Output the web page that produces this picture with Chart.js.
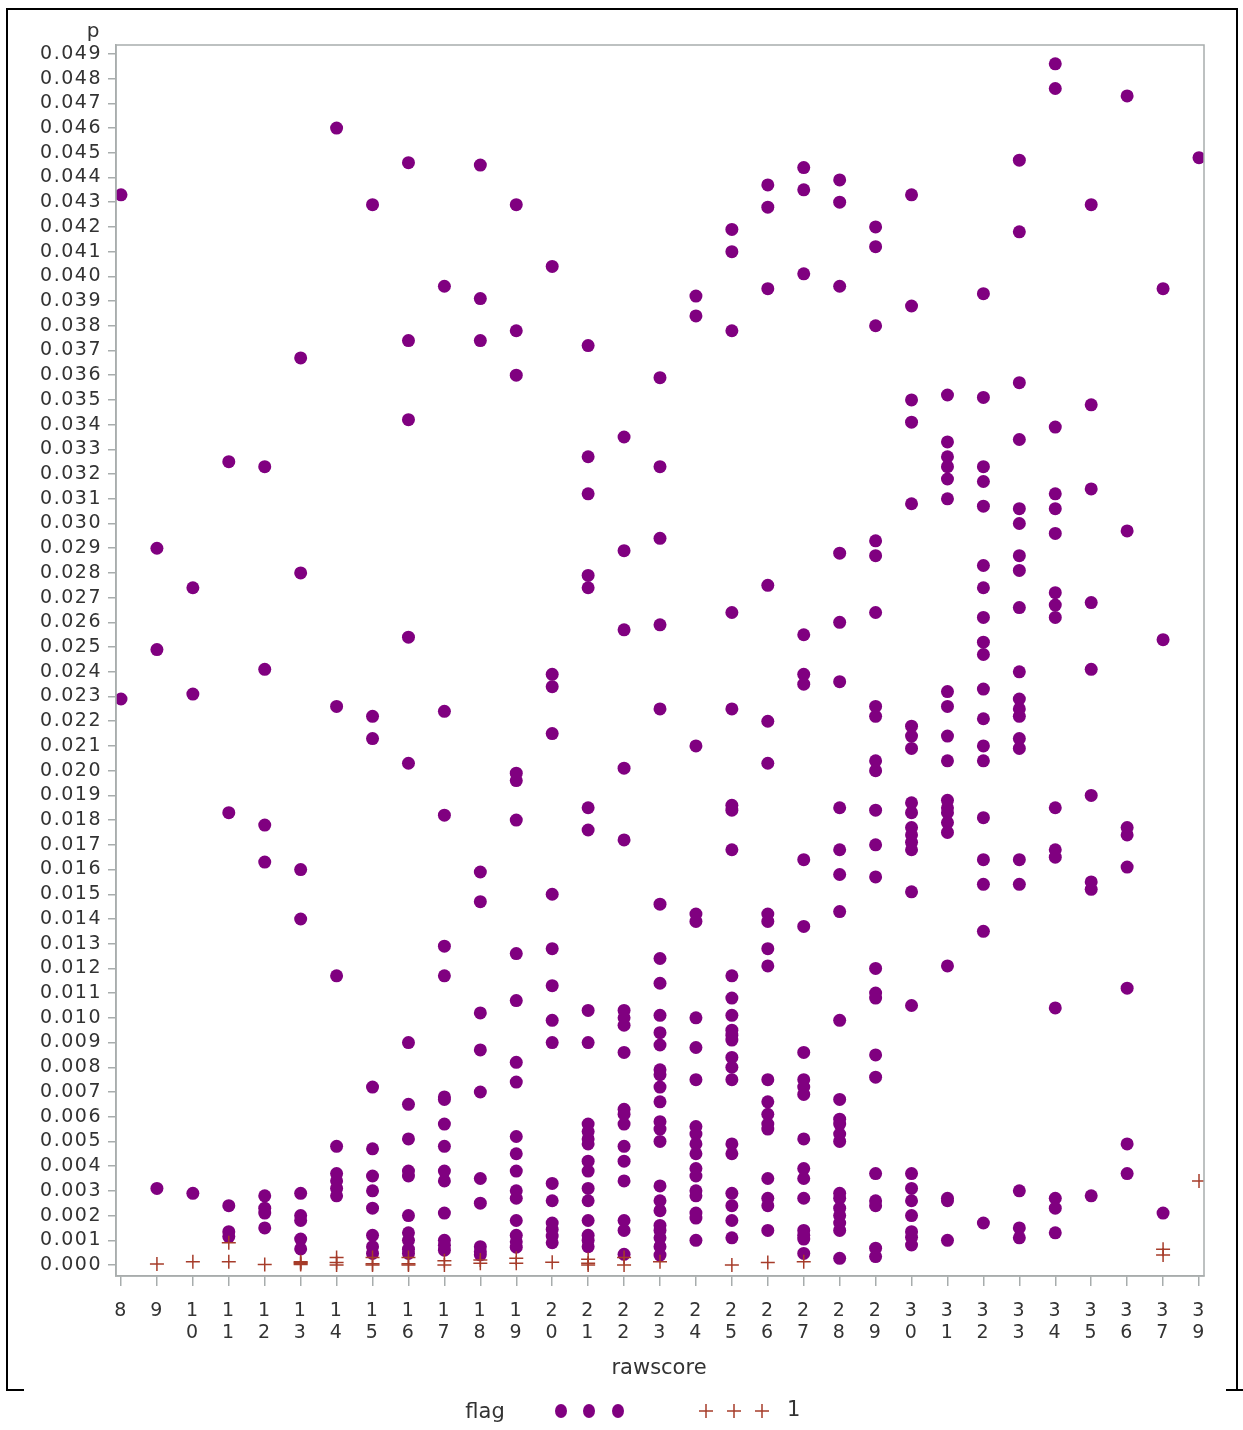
<!DOCTYPE html>
<html>
<head>
<meta charset="utf-8">
<script src="https://cdn.jsdelivr.net/npm/chart.js@4.4.1/dist/chart.umd.min.js"></script>
<style>
  body { margin: 0; background: #fff; }
  #chart { position: absolute; left: 0; top: 0; }
</style>
</head>
<body>
<canvas id="chart" width="1243" height="1430"></canvas>
<script>
// categories on the x axis (38 has no data, so it has no tick)
const rawscores = [8, 9, 10, 11, 12, 13, 14, 15, 16, 17, 18, 19, 20, 21, 22, 23, 24, 25, 26, 27, 28, 29, 30, 31, 32, 33, 34, 35, 36, 37, 39];

// p values, flag = (blank) -> purple dots, one list per rawscore
const pBlank = [
  [0.0433, 0.0229],
  [0.0290, 0.0249, 0.0031],
  [0.0274, 0.0231, 0.0029],
  [0.0325, 0.0183, 0.0024, 0.00135, 0.00115],
  [0.0323, 0.0241, 0.0178, 0.0163, 0.0028, 0.0023, 0.0021, 0.0015],
  [0.0367, 0.0280, 0.0160, 0.0140, 0.0029, 0.0020, 0.0018, 0.00105, 0.00065],
  [0.0460, 0.0226, 0.0117, 0.0048, 0.0037, 0.0034, 0.0031, 0.0028],
  [0.0429, 0.0222, 0.0213, 0.0072, 0.0047, 0.0036, 0.0030, 0.0023, 0.0012, 0.00074, 0.00047],
  [0.0446, 0.0374, 0.0342, 0.0254, 0.0203, 0.0090, 0.0065, 0.0051, 0.0038, 0.0036, 0.0020, 0.0013, 0.0010, 0.00064, 0.00047],
  [0.0396, 0.0224, 0.0182, 0.0129, 0.0117, 0.0068, 0.0067, 0.0057, 0.0048, 0.0038, 0.0034, 0.0021, 0.0010, 0.0008, 0.0006],
  [0.0445, 0.0391, 0.0374, 0.0159, 0.0147, 0.0102, 0.0087, 0.0070, 0.0035, 0.0025, 0.00074, 0.00054, 0.00041],
  [0.0429, 0.0378, 0.0360, 0.0199, 0.0196, 0.0180, 0.0126, 0.0107, 0.0082, 0.0074, 0.0052, 0.0045, 0.0038, 0.0030, 0.0027, 0.0018, 0.0012, 0.00094, 0.00072],
  [0.0404, 0.0239, 0.0234, 0.0215, 0.0150, 0.0128, 0.0113, 0.0099, 0.0090, 0.0033, 0.0026, 0.0017, 0.00144, 0.00117, 0.0009],
  [0.0372, 0.0327, 0.0312, 0.0279, 0.0274, 0.0185, 0.0176, 0.0103, 0.0090, 0.0057, 0.0054, 0.0051, 0.0049, 0.0042, 0.0038, 0.0031, 0.0026, 0.0018, 0.0012, 0.0010, 0.00074],
  [0.0335, 0.0289, 0.0257, 0.0201, 0.0172, 0.0103, 0.0100, 0.0097, 0.0086, 0.0063, 0.0061, 0.0057, 0.0048, 0.0042, 0.0034, 0.0018, 0.0014, 0.00043],
  [0.0359, 0.0323, 0.0294, 0.0259, 0.0225, 0.0146, 0.0124, 0.0114, 0.0101, 0.0094, 0.0089, 0.0079, 0.0077, 0.0072, 0.0066, 0.0058, 0.0055, 0.0050, 0.0032, 0.0026, 0.0022, 0.0016, 0.0014, 0.0011, 0.00074, 0.0004],
  [0.0392, 0.0384, 0.0210, 0.0142, 0.0139, 0.0100, 0.0088, 0.0075, 0.0056, 0.0053, 0.0049, 0.0045, 0.0039, 0.0036, 0.0030, 0.0028, 0.0021, 0.0019, 0.0010],
  [0.0419, 0.0410, 0.0378, 0.0264, 0.0225, 0.0186, 0.0184, 0.0168, 0.0117, 0.0108, 0.0101, 0.0095, 0.0093, 0.0091, 0.0084, 0.0080, 0.0075, 0.0049, 0.0045, 0.0029, 0.0024, 0.0018, 0.0011],
  [0.0437, 0.0428, 0.0395, 0.0275, 0.0220, 0.0203, 0.0142, 0.0139, 0.0128, 0.0121, 0.0075, 0.0066, 0.0061, 0.0057, 0.0055, 0.0035, 0.0027, 0.0024, 0.0014],
  [0.0444, 0.0435, 0.0401, 0.0255, 0.0239, 0.0235, 0.0164, 0.0137, 0.0086, 0.0075, 0.0072, 0.0069, 0.0051, 0.0039, 0.0035, 0.0027, 0.0014, 0.0012, 0.00105, 0.00047],
  [0.0439, 0.0430, 0.0396, 0.0288, 0.0260, 0.0236, 0.0185, 0.0168, 0.0158, 0.0143, 0.0099, 0.0067, 0.0059, 0.0057, 0.0053, 0.0050, 0.0029, 0.0027, 0.0023, 0.0020, 0.0017, 0.0014, 0.00027],
  [0.0420, 0.0412, 0.0380, 0.0293, 0.0287, 0.0264, 0.0226, 0.0222, 0.0204, 0.0200, 0.0184, 0.0170, 0.0157, 0.0120, 0.0110, 0.0108, 0.0085, 0.0076, 0.0037, 0.0026, 0.0024, 0.00068, 0.00034],
  [0.0433, 0.0388, 0.0350, 0.0341, 0.0308, 0.0218, 0.0214, 0.0209, 0.0187, 0.0183, 0.0177, 0.0174, 0.0171, 0.0168, 0.0151, 0.0105, 0.0037, 0.0031, 0.0026, 0.0020, 0.00135, 0.00112, 0.00081],
  [0.0352, 0.0333, 0.0327, 0.0323, 0.0318, 0.0310, 0.0232, 0.0226, 0.0214, 0.0204, 0.0188, 0.0185, 0.0183, 0.0179, 0.0175, 0.0121, 0.0027, 0.0026, 0.0010],
  [0.0393, 0.0351, 0.0323, 0.0317, 0.0307, 0.0283, 0.0274, 0.0262, 0.0252, 0.0247, 0.0233, 0.0221, 0.0210, 0.0204, 0.0181, 0.0164, 0.0154, 0.0135, 0.0017],
  [0.0447, 0.0418, 0.0357, 0.0334, 0.0306, 0.0300, 0.0287, 0.0281, 0.0266, 0.0240, 0.0229, 0.0225, 0.0222, 0.0213, 0.0209, 0.0164, 0.0154, 0.0030, 0.0015, 0.0011],
  [0.0486, 0.0476, 0.0339, 0.0312, 0.0306, 0.0296, 0.0272, 0.0267, 0.0262, 0.0185, 0.0168, 0.0165, 0.0104, 0.0027, 0.0023, 0.0013],
  [0.0429, 0.0348, 0.0314, 0.0268, 0.0241, 0.0190, 0.0155, 0.0152, 0.0028],
  [0.0473, 0.0297, 0.0177, 0.0174, 0.0161, 0.0112, 0.0049, 0.0037],
  [0.0395, 0.0253, 0.0021],
  [0.0448]
];

// p values, flag = 1 -> red crosses
const pFlag1 = [
  [], [0.00004], [0.00013], [0.0009, 0.00013], [0.00002],
  [0.00013, 0.0001, 0.00006, 0.00002], [0.0003, 0.0001, 0.0], [0.0003, 0.00005, 0.0],
  [0.0003, 0.00005, 0.0], [0.00017, 0.0], [0.0002, 0.00007], [0.00027, 0.00007],
  [0.00011], [0.00023, 0.00007, 0.0], [0.0003, 0.0], [0.00013], [], [0.0], [0.0001],
  [0.00013], [], [], [], [], [], [], [], [], [], [0.00064, 0.0004], [0.0034]
];

const yTicks = [];
for (let i = 0; i <= 49; i++) yTicks.push(i / 1000);

const PURPLE = "#800080";
const RED = "#A63C2A";
const AXIS = "#A8ADAD";
const TEXT = "#333333";
const FONT = "'DejaVu Sans', sans-serif";

function toPoints(lists) {
  const pts = [];
  lists.forEach((vals, i) => vals.forEach(v => pts.push({ x: i, y: v })));
  return pts;
}

// frame, y title, x title and the legend
const extras = {
  id: "extras",
  beforeDraw(chart) {
    // the reference font is a bit wider than DejaVu
    chart.ctx.letterSpacing = "1.5px";
  },
  afterDraw(chart) {
    const ctx = chart.ctx;
    const a = chart.chartArea;
    ctx.save();
    ctx.letterSpacing = "0px";
    ctx.strokeStyle = AXIS;
    ctx.lineWidth = 1.5;
    ctx.strokeRect(a.left, a.top, a.right - a.left, a.bottom - a.top);

    ctx.fillStyle = TEXT;
    ctx.font = "20px " + FONT;
    ctx.textAlign = "center";
    ctx.textBaseline = "middle";
    ctx.fillText("p", 93, 32);
    ctx.font = "21px " + FONT;
    ctx.fillText("rawscore", 659, 1369);
    ctx.fillText("flag", 485, 1413);
    ctx.textAlign = "left";
    ctx.fillText("1", 787, 1411);

    ctx.fillStyle = PURPLE;
    [561, 589, 618].forEach(x => {
      ctx.beginPath();
      ctx.ellipse(x, 1411, 6, 7, 0, 0, Math.PI * 2);
      ctx.fill();
    });
    ctx.strokeStyle = RED;
    ctx.lineWidth = 1.5;
    [706, 734, 762].forEach(x => {
      ctx.beginPath();
      ctx.moveTo(x - 7, 1411); ctx.lineTo(x + 7, 1411);
      ctx.moveTo(x, 1404); ctx.lineTo(x, 1418);
      ctx.stroke();
    });

    ctx.strokeStyle = "#000";
    ctx.lineWidth = 2;
    ctx.beginPath();
    ctx.moveTo(7, 1390); ctx.lineTo(7, 9); ctx.lineTo(1237, 9); ctx.lineTo(1237, 1390);
    ctx.moveTo(6, 1390); ctx.lineTo(24, 1390);
    ctx.moveTo(1226, 1390); ctx.lineTo(1243, 1390);
    ctx.stroke();
    ctx.restore();
  }
};

new Chart(document.getElementById("chart"), {
  type: "scatter",
  data: {
    datasets: [
      {
        label: "1",
        data: toPoints(pFlag1),
        pointStyle: "cross",
        pointRadius: 7,
        borderColor: RED,
        borderWidth: 1.5,
        order: 1
      },
      {
        label: "",
        data: toPoints(pBlank),
        pointStyle: "circle",
        pointRadius: 6.5,
        backgroundColor: PURPLE,
        borderColor: PURPLE,
        borderWidth: 0,
        order: 2
      }
    ]
  },
  options: {
    responsive: false,
    animation: false,
    events: [],
    layout: { padding: { left: 0, top: 45, right: 39, bottom: 54 } },
    plugins: { legend: { display: false }, tooltip: { enabled: false } },
    scales: {
      x: {
        type: "linear",
        min: -0.139,
        max: rawscores.length - 1 + 0.139,
        afterFit: s => { s.height = 100; },
        afterBuildTicks: s => { s.ticks = rawscores.map((r, i) => ({ value: i })); },
        grid: { display: true, drawOnChartArea: false, drawTicks: true, tickLength: 10, color: AXIS, lineWidth: 1.5 },
        border: { display: true, color: AXIS, width: 1.5 },
        ticks: {
          autoSkip: false,
          maxRotation: 0,
          padding: 14,
          color: TEXT,
          font: { family: FONT, size: 19, lineHeight: 1.15 },
          callback: v => String(rawscores[v]).split("")
        }
      },
      y: {
        type: "linear",
        min: -0.000445,
        max: 0.04936,
        afterFit: s => { s.width = 116; },
        afterBuildTicks: s => { s.ticks = yTicks.map(v => ({ value: v })); },
        grid: { display: true, drawOnChartArea: false, drawTicks: true, tickLength: 8, color: AXIS, lineWidth: 1.5 },
        border: { display: true, color: AXIS, width: 1.5 },
        ticks: {
          autoSkip: false,
          padding: 6,
          color: TEXT,
          font: { family: FONT, size: 19 },
          callback: v => v.toFixed(3)
        }
      }
    }
  },
  plugins: [extras]
});
</script>
</body>
</html>
